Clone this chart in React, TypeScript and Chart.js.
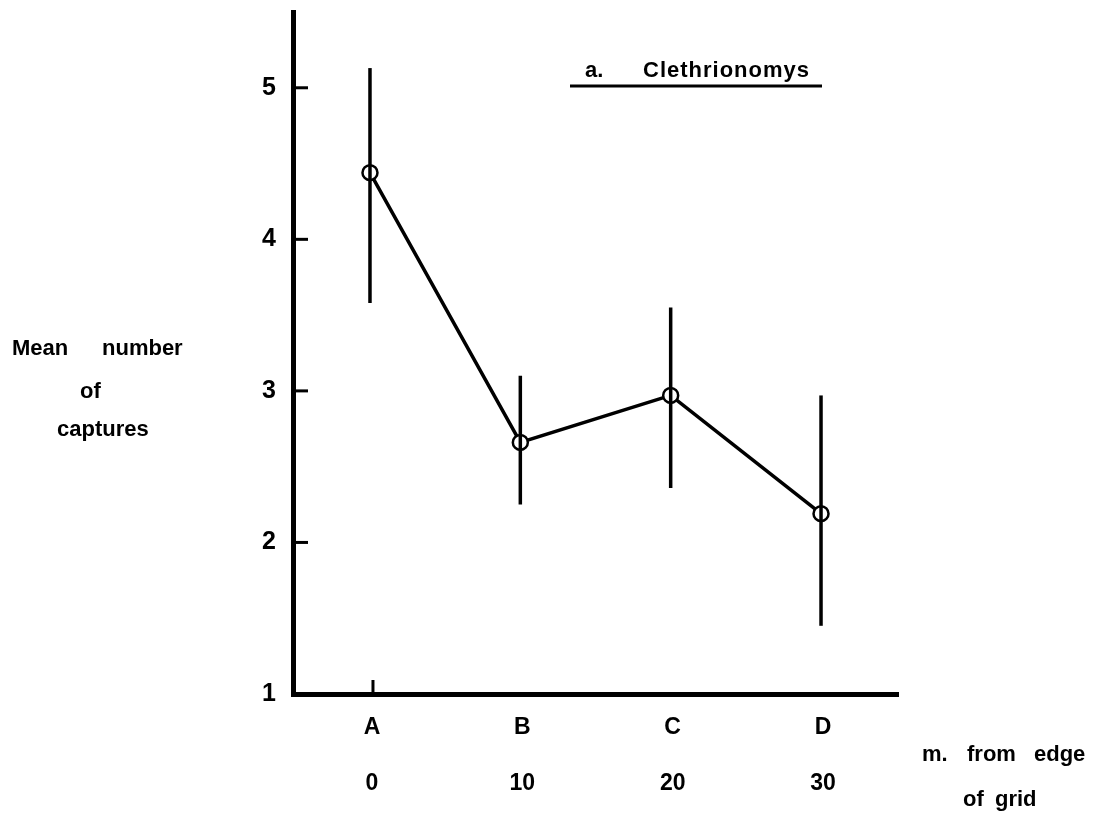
import React, { useEffect, useRef } from "react";
import { Chart, registerables } from "chart.js";

Chart.register(...registerables);

// Trap grids A–D, at 0–30 m from the edge of the grid
const gridLetters = ["A", "B", "C", "D"];
const distances = [0, 10, 20, 30];
// Mean number of captures with the ends of the vertical bars
const meanCaptures = [4.44, 2.66, 2.97, 2.19];
const upperLimits = [5.13, 3.1, 3.55, 2.97];
const lowerLimits = [3.58, 2.25, 2.36, 1.45];
// Axis ticks
const yTickValues = [1, 2, 3, 4, 5];
const yMarkValues = [2, 3, 4, 5];
const xMarkValues = [0];

const panelLabel = "a.";
const speciesName = "Clethrionomys";

const FONT = '"Liberation Sans", Arial, Helvetica, sans-serif';
const W = 1098;
const H = 814;

const decorations = {
  id: "decorations",
  afterDatasetsDraw(chart: any) {
    const { ctx } = chart;
    const x = chart.scales.x;
    const y = chart.scales.y;
    ctx.save();
    ctx.strokeStyle = "#000";
    ctx.fillStyle = "#000";
    ctx.lineCap = "butt";

    // vertical bars through each mean
    ctx.lineWidth = 3.5;
    distances.forEach((d, i) => {
      const px = x.getPixelForValue(d);
      ctx.beginPath();
      ctx.moveTo(px, y.getPixelForValue(upperLimits[i]));
      ctx.lineTo(px, y.getPixelForValue(lowerLimits[i]));
      ctx.stroke();
    });

    // inward tick marks
    const left = chart.chartArea.left;
    const bottom = chart.chartArea.bottom;
    ctx.lineWidth = 3;
    yMarkValues.forEach((v) => {
      const py = y.getPixelForValue(v);
      ctx.beginPath();
      ctx.moveTo(left, py);
      ctx.lineTo(left + 15, py);
      ctx.stroke();
    });
    xMarkValues.forEach((v) => {
      const px = x.getPixelForValue(v) + 3;
      ctx.beginPath();
      ctx.moveTo(px, bottom);
      ctx.lineTo(px, bottom - 14);
      ctx.stroke();
    });

    // category letters and distances under the x axis
    ctx.font = `bold 23px ${FONT}`;
    ctx.textAlign = "center";
    ctx.textBaseline = "alphabetic";
    distances.forEach((d, i) => {
      const px = x.getPixelForValue(d) + 2;
      ctx.fillText(gridLetters[i], px, 734);
      ctx.fillText(String(d), px, 790);
    });

    // axis titles, word by word
    ctx.font = `bold 22px ${FONT}`;
    ctx.textAlign = "left";
    const words: [string, number, number][] = [
      ["Mean", 12, 355],
      ["number", 102, 355],
      ["of", 80, 398],
      ["captures", 57, 436],
      ["m.", 922, 761],
      ["from", 967, 761],
      ["edge", 1034, 761],
      ["of", 963, 806],
      ["grid", 995, 806],
    ];
    words.forEach(([t, tx, ty]) => ctx.fillText(t, tx, ty));

    // panel title with underline
    ctx.fillText(panelLabel, 585, 77);
    (ctx as any).letterSpacing = "1px";
    ctx.fillText(speciesName, 643, 77);
    (ctx as any).letterSpacing = "0px";
    ctx.lineWidth = 3;
    ctx.beginPath();
    ctx.moveTo(570, 86);
    ctx.lineTo(822, 86);
    ctx.stroke();

    ctx.restore();
  },
};

export default function App() {
  const canvasRef = useRef<HTMLCanvasElement | null>(null);

  useEffect(() => {
    const canvas = canvasRef.current;
    if (!canvas) return;
    const chart = new Chart(canvas, {
      type: "line",
      data: {
        datasets: [
          {
            data: distances.map((d, i) => ({ x: d, y: meanCaptures[i] })),
            borderColor: "#000",
            borderWidth: 3.5,
            tension: 0,
            pointRadius: 7.5,
            pointBorderWidth: 2.5,
            pointBackgroundColor: "#fff",
            pointBorderColor: "#000",
            fill: false,
          },
        ],
      },
      options: {
        responsive: false,
        animation: false,
        devicePixelRatio: 1,
        layout: { padding: { top: 12, right: 200, left: 0, bottom: 0 } },
        plugins: {
          legend: { display: false },
          tooltip: { enabled: false },
          title: { display: false },
        },
        scales: {
          x: {
            type: "linear",
            min: -5.12,
            max: 35.12,
            afterFit: (s: any) => {
              s.height = 120;
              s.paddingLeft = 0;
              s.paddingRight = 0;
            },
            grid: { display: false, drawTicks: false },
            border: { display: true, width: 5, color: "#000" },
            ticks: { display: false },
          },
          y: {
            type: "linear",
            min: 1,
            max: 5.5,
            afterBuildTicks: (s: any) => {
              s.ticks = yTickValues.map((v) => ({ value: v }));
            },
            afterFit: (s: any) => {
              s.width = 293;
              s.paddingTop = 0;
              s.paddingBottom = 0;
            },
            grid: { display: false, drawTicks: false },
            border: { display: true, width: 5, color: "#000" },
            ticks: {
              color: "#000",
              padding: 17,
              font: { family: FONT, size: 25, weight: "bold" },
            },
          },
        },
      },
      plugins: [decorations],
    } as any);
    return () => chart.destroy();
  }, []);

  return (
    <div style={{ position: "absolute", left: 0, top: 0, width: W, height: H, background: "#fff" }}>
      <canvas ref={canvasRef} width={W} height={H} style={{ display: "block" }} />
    </div>
  );
}
